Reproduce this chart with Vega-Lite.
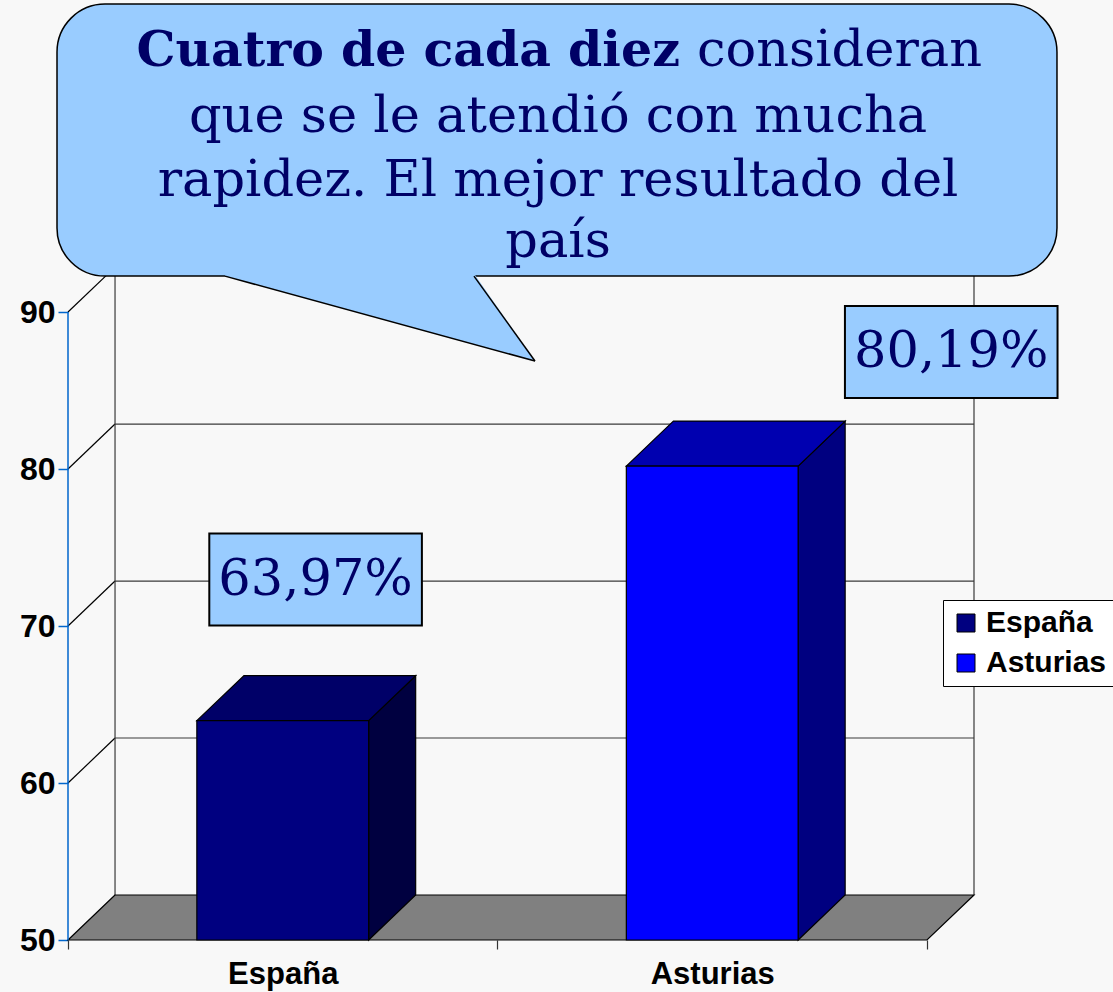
{
  "$schema": "https://vega.github.io/schema/vega-lite/v6.json",
  "width": 906,
  "height": 673,
  "autosize": {"type": "none"},
  "padding": {"left": 68, "top": 267, "right": 139, "bottom": 52},
  "background": "#f8f8f8",
  "config": {"view": {"stroke": null}, "font": "Liberation Sans"},
  "datasets": {
    "paises": [
      {"pais": "España", "porcentaje": 63.97, "orden": 0},
      {"pais": "Asturias", "porcentaje": 80.19, "orden": 1}
    ],
    "niveles": [{"nivel": 60}, {"nivel": 70}, {"nivel": 80}, {"nivel": 90}],
    "nota": [
      {"linea": 1, "parte": "destacado", "texto": "Cuatro de cada diez"},
      {"linea": 1, "parte": "resto", "texto": "consideran"},
      {"linea": 2, "parte": "resto", "texto": "que se le atendió con mucha"},
      {"linea": 3, "parte": "resto", "texto": "rapidez. El mejor resultado del"},
      {"linea": 4, "parte": "resto", "texto": "país"}
    ]
  },
  "layer": [
    {
      "data": {"name": "niveles"},
      "transform": [{"calculate": "datum.nivel + 2.866", "as": "fondo"}],
      "mark": {"type": "rule", "color": "#3a3a3a", "strokeWidth": 1.2},
      "encoding": {
        "y": {"field": "fondo", "type": "quantitative", "scale": {"domain": [50, 92.87], "nice": false, "zero": false}},
        "x": {"datum": 0.1095, "type": "quantitative", "scale": {"domain": [0, 2.1095], "nice": false, "zero": false}},
        "x2": {"datum": 2.1095}
      }
    },
    {
      "data": {"name": "niveles"},
      "transform": [{"calculate": "datum.nivel + 2.866", "as": "fondo"}],
      "mark": {"type": "rule", "color": "black", "strokeWidth": 1.2},
      "encoding": {
        "y": {"field": "nivel", "type": "quantitative", "scale": {"domain": [50, 92.87], "nice": false, "zero": false}},
        "y2": {"field": "fondo"},
        "x": {"datum": 0, "type": "quantitative", "scale": {"domain": [0, 2.1095], "nice": false, "zero": false}},
        "x2": {"datum": 0.1095}
      }
    },
    {
      "data": {"values": [{"borde": "izquierdo"}, {"borde": "derecho"}]},
      "transform": [{"calculate": "datum.borde == 'izquierdo' ? 0.1095 : 2.1095", "as": "xb"}],
      "mark": {"type": "rule", "color": "#3a3a3a", "strokeWidth": 1.2},
      "encoding": {
        "x": {"field": "xb", "type": "quantitative", "scale": {"domain": [0, 2.1095], "nice": false, "zero": false}},
        "y": {"datum": 52.866, "type": "quantitative", "scale": {"domain": [50, 92.87], "nice": false, "zero": false}},
        "y2": {"datum": 92.87}
      }
    },
    {
      "data": {"values": [{"plano": "suelo"}]},
      "transform": [
        {"calculate": "0", "as": "frente"},
        {"calculate": "1", "as": "fondo"},
        {"fold": ["frente", "fondo"], "as": ["lado", "t"]},
        {"calculate": "50 + datum.t * 2.866", "as": "ys"},
        {"calculate": "datum.t * 0.1095", "as": "xs1"},
        {"calculate": "2 + datum.t * 0.1095", "as": "xs2"}
      ],
      "mark": {"type": "area", "orient": "horizontal", "fill": "#808080", "stroke": "black", "strokeWidth": 1.2},
      "encoding": {
        "y": {"field": "ys", "type": "quantitative", "scale": {"domain": [50, 92.87], "nice": false, "zero": false}, "stack": null},
        "x": {"field": "xs1", "type": "quantitative", "scale": {"domain": [0, 2.1095], "nice": false, "zero": false}},
        "x2": {"field": "xs2"}
      }
    },
    {
      "data": {"values": [{"eje": "vertical"}]},
      "mark": {"type": "rule", "color": "#0066cc", "strokeWidth": 1.5},
      "encoding": {
        "x": {"datum": 0, "type": "quantitative", "scale": {"domain": [0, 2.1095], "nice": false, "zero": false}},
        "y": {"datum": 50, "type": "quantitative", "scale": {"domain": [50, 92.87], "nice": false, "zero": false}},
        "y2": {"datum": 90}
      }
    },
    {
      "data": {"name": "paises"},
      "transform": [
        {"calculate": "0", "as": "frente"},
        {"calculate": "1", "as": "fondo"},
        {"fold": ["frente", "fondo"], "as": ["lado", "t"]},
        {"calculate": "datum.orden + 0.7 + datum.t * 0.1095", "as": "xl"},
        {"calculate": "50 + datum.t * 2.866", "as": "yb"},
        {"calculate": "datum.porcentaje + datum.t * 2.866", "as": "yt"}
      ],
      "mark": {"type": "area", "orient": "vertical", "stroke": "black", "strokeWidth": 1.2},
      "encoding": {
        "x": {"field": "xl", "type": "quantitative", "scale": {"domain": [0, 2.1095], "nice": false, "zero": false}},
        "y": {"field": "yt", "type": "quantitative", "scale": {"domain": [50, 92.87], "nice": false, "zero": false}, "stack": null},
        "y2": {"field": "yb"},
        "detail": {"field": "pais"},
        "fill": {"condition": {"test": "datum.pais == 'España'", "value": "#000040"}, "value": "#000080"}
      }
    },
    {
      "data": {"name": "paises"},
      "transform": [
        {"calculate": "0", "as": "frente"},
        {"calculate": "1", "as": "fondo"},
        {"fold": ["frente", "fondo"], "as": ["lado", "t"]},
        {"calculate": "datum.porcentaje + datum.t * 2.866", "as": "yt"},
        {"calculate": "datum.orden + 0.3 + datum.t * 0.1095", "as": "xa"},
        {"calculate": "datum.orden + 0.7 + datum.t * 0.1095", "as": "xb"}
      ],
      "mark": {"type": "area", "orient": "horizontal", "stroke": "black", "strokeWidth": 1.2},
      "encoding": {
        "y": {"field": "yt", "type": "quantitative", "scale": {"domain": [50, 92.87], "nice": false, "zero": false}, "stack": null},
        "x": {"field": "xa", "type": "quantitative", "scale": {"domain": [0, 2.1095], "nice": false, "zero": false}},
        "x2": {"field": "xb"},
        "detail": {"field": "pais"},
        "fill": {"condition": {"test": "datum.pais == 'España'", "value": "#000068"}, "value": "#0000b0"}
      }
    },
    {
      "data": {"name": "paises"},
      "transform": [
        {"calculate": "datum.orden + 0.3", "as": "x0"},
        {"calculate": "datum.orden + 0.7", "as": "x1"}
      ],
      "mark": {"type": "rect", "stroke": "black", "strokeWidth": 1.2},
      "encoding": {
        "x": {
          "field": "x0", "type": "quantitative",
          "scale": {"domain": [0, 2.1095], "nice": false, "zero": false},
          "axis": {
            "values": [0, 0.5, 1, 1.5, 2], "domain": false, "grid": false, "title": null,
            "tickColor": "#333333", "tickSize": 9, "tickWidth": 1.2,
            "tickOpacity": {"condition": {"test": "datum.value % 1 != 0", "value": 0}, "value": 1},
            "labelExpr": "datum.value == 0.5 ? 'España' : datum.value == 1.5 ? 'Asturias' : ''",
            "labelFont": "Liberation Sans", "labelFontWeight": "bold", "labelFontSize": 31,
            "labelColor": "black", "labelPadding": 10, "labelOverlap": false, "labelBound": false, "labelFlush": false
          }
        },
        "x2": {"field": "x1"},
        "y": {
          "field": "porcentaje", "type": "quantitative",
          "scale": {"domain": [50, 92.87], "nice": false, "zero": false},
          "axis": {
            "values": [50, 60, 70, 80, 90], "domain": false, "grid": false, "title": null,
            "tickColor": "#0066cc", "tickSize": 10, "tickWidth": 1.5,
            "labelFont": "Liberation Sans", "labelFontWeight": "bold", "labelFontSize": 32,
            "labelColor": "black", "labelPadding": 3, "labelOverlap": false, "labelBound": false, "labelFlush": false
          }
        },
        "y2": {"datum": 50},
        "color": {
          "field": "pais", "type": "nominal",
          "scale": {"domain": ["España", "Asturias"], "range": ["#000080", "#0000ff"]},
          "legend": {
            "title": null, "orient": "none", "legendX": 875, "legendY": 333, "direction": "vertical",
            "fillColor": "white", "strokeColor": "black", "padding": 8,
            "symbolType": "square", "symbolSize": 324, "symbolStrokeColor": "black", "symbolStrokeWidth": 1,
            "labelFont": "Liberation Sans", "labelFontWeight": "bold", "labelFontSize": 30, "labelColor": "black",
            "rowPadding": 10, "labelOffset": 5
          }
        }
      }
    },
    {
      "data": {"name": "paises"},
      "transform": [
        {"calculate": "datum.orden == 0 ? 0.5765 : 2.0565", "as": "cx"},
        {"calculate": "datum.orden == 0 ? 72.96 : 87.455", "as": "cy"},
        {"calculate": "datum.cx - 0.2475", "as": "bx1"},
        {"calculate": "datum.cx + 0.2475", "as": "bx2"},
        {"calculate": "datum.cy - 2.93", "as": "by1"},
        {"calculate": "datum.cy + 2.93", "as": "by2"}
      ],
      "mark": {"type": "rect", "fill": "#99ccff", "stroke": "black", "strokeWidth": 2},
      "encoding": {
        "x": {"field": "bx1", "type": "quantitative", "scale": {"domain": [0, 2.1095], "nice": false, "zero": false}},
        "x2": {"field": "bx2"},
        "y": {"field": "by1", "type": "quantitative", "scale": {"domain": [50, 92.87], "nice": false, "zero": false}},
        "y2": {"field": "by2"}
      }
    },
    {
      "data": {"name": "paises"},
      "transform": [
        {"calculate": "datum.orden == 0 ? 0.5765 : 2.0565", "as": "cx"},
        {"calculate": "datum.orden == 0 ? 72.96 : 87.455", "as": "cy"},
        {"calculate": "replace(format(datum.porcentaje, '.2f'), '.', ',') + '%'", "as": "etiqueta"}
      ],
      "mark": {"type": "text", "font": "DejaVu Serif", "fontSize": 51, "fill": "#000066", "align": "center", "baseline": "middle"},
      "encoding": {
        "x": {"field": "cx", "type": "quantitative", "scale": {"domain": [0, 2.1095], "nice": false, "zero": false}},
        "y": {"field": "cy", "type": "quantitative", "scale": {"domain": [50, 92.87], "nice": false, "zero": false}},
        "text": {"field": "etiqueta"}
      }
    },
    {
      "data": {"values": [{"forma": "bocadillo"}]},
      "mark": {"type": "rect", "fill": "#99ccff", "stroke": "black", "strokeWidth": 1.5, "cornerRadius": 48},
      "encoding": {
        "x": {"datum": -0.0256, "type": "quantitative", "scale": {"domain": [0, 2.1095], "nice": false, "zero": false}},
        "x2": {"datum": 2.3027},
        "y": {"datum": 92.29, "type": "quantitative", "scale": {"domain": [50, 92.87], "nice": false, "zero": false}},
        "y2": {"datum": 109.62}
      }
    },
    {
      "data": {"values": [{"forma": "cola"}]},
      "transform": [
        {"calculate": "0", "as": "a"},
        {"calculate": "1", "as": "b"},
        {"calculate": "2", "as": "c"},
        {"fold": ["a", "b", "c"], "as": ["vertice", "k"]},
        {"calculate": "[0.3655, 0.9453, 1.0873][datum.k]", "as": "cx"},
        {"calculate": "[92.45, 92.45, 86.88][datum.k]", "as": "ct"},
        {"calculate": "[92.29, 87.94, 86.88][datum.k]", "as": "cb"}
      ],
      "mark": {"type": "area", "orient": "vertical", "fill": "#99ccff"},
      "encoding": {
        "x": {"field": "cx", "type": "quantitative", "scale": {"domain": [0, 2.1095], "nice": false, "zero": false}},
        "y": {"field": "ct", "type": "quantitative", "scale": {"domain": [50, 92.87], "nice": false, "zero": false}, "stack": null},
        "y2": {"field": "cb"}
      }
    },
    {
      "data": {"values": [{"borde": "izquierdo"}, {"borde": "derecho"}]},
      "transform": [{"calculate": "datum.borde == 'izquierdo' ? 0.3655 : 0.9453", "as": "xa"}],
      "mark": {"type": "rule", "color": "black", "strokeWidth": 1.5},
      "encoding": {
        "x": {"field": "xa", "type": "quantitative", "scale": {"domain": [0, 2.1095], "nice": false, "zero": false}},
        "y": {"datum": 92.29, "type": "quantitative", "scale": {"domain": [50, 92.87], "nice": false, "zero": false}},
        "x2": {"datum": 1.0873},
        "y2": {"datum": 86.88}
      }
    },
    {
      "data": {"name": "nota"},
      "transform": [{"filter": "datum.parte == 'destacado'"}],
      "mark": {"type": "text", "font": "DejaVu Serif", "fontWeight": "bold", "fontSize": 49, "fill": "#000066", "align": "right", "baseline": "alphabetic"},
      "encoding": {
        "x": {"datum": 1.4249, "type": "quantitative", "scale": {"domain": [0, 2.1095], "nice": false, "zero": false}},
        "y": {"datum": 105.67, "type": "quantitative", "scale": {"domain": [50, 92.87], "nice": false, "zero": false}},
        "text": {"field": "texto"}
      }
    },
    {
      "data": {"name": "nota"},
      "transform": [{"filter": "datum.parte == 'resto' && datum.linea == 1"}],
      "mark": {"type": "text", "font": "DejaVu Serif", "fontSize": 51, "fill": "#000066", "align": "left", "baseline": "alphabetic"},
      "encoding": {
        "x": {"datum": 1.4645, "type": "quantitative", "scale": {"domain": [0, 2.1095], "nice": false, "zero": false}},
        "y": {"datum": 105.67, "type": "quantitative", "scale": {"domain": [50, 92.87], "nice": false, "zero": false}},
        "text": {"field": "texto"}
      }
    },
    {
      "data": {"name": "nota"},
      "transform": [
        {"filter": "datum.linea > 1"},
        {"calculate": "datum.linea == 2 ? 101.46 : datum.linea == 3 ? 97.39 : 93.5", "as": "yl"}
      ],
      "mark": {"type": "text", "font": "DejaVu Serif", "fontSize": 51, "fill": "#000066", "align": "center", "baseline": "alphabetic"},
      "encoding": {
        "x": {"datum": 1.141, "type": "quantitative", "scale": {"domain": [0, 2.1095], "nice": false, "zero": false}},
        "y": {"field": "yl", "type": "quantitative", "scale": {"domain": [50, 92.87], "nice": false, "zero": false}},
        "text": {"field": "texto"}
      }
    }
  ]
}
